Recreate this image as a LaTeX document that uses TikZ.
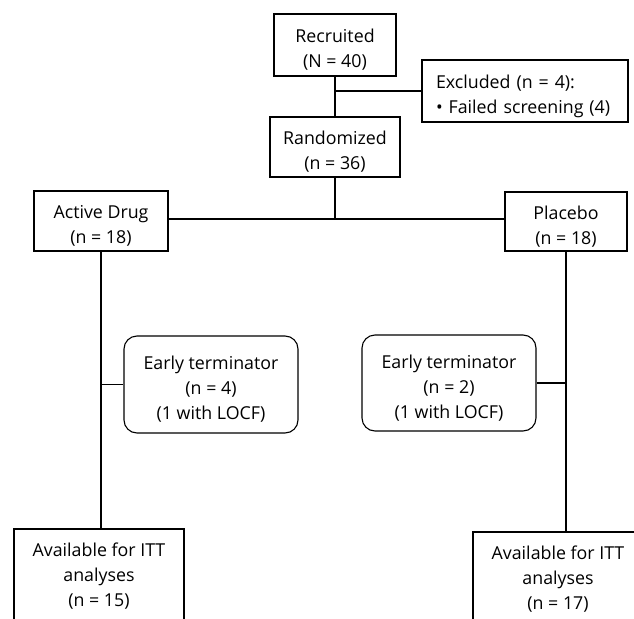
\documentclass[tikz,border=0pt]{standalone}
\usepackage{fontspec}
\setmainfont{Open Sans}
\newcommand\toppad{\rule{0pt}{23.5pt}}
\begin{document}
\begin{tikzpicture}[x=1pt,y=-1pt,
  every node/.style={font=\fontsize{17.8}{25}\selectfont, align=center, inner sep=0pt},
  box/.style={draw, line width=1.1pt},
  rbox/.style={draw, line width=1.1pt, rounded corners=13pt},
  conn/.style={line width=1.1pt}]
\useasboundingbox (0,0) rectangle (634,618);
\clip (0,0) rectangle (634,618);
\node[box, minimum width=122pt, minimum height=62pt] (rec) at (335,45) {\toppad Recruited\\(N = 40)};
\node[box, minimum width=206pt, minimum height=62pt, text width=178pt, inner xsep=14pt, align=left] (exc) at (525,91) {\toppad Excluded (n = 4):\\• Failed screening (4)};
\node[box, minimum width=130pt, minimum height=60pt] (rand) at (335,147) {\toppad Randomized\\(n = 36)};
\node[box, minimum width=134pt, minimum height=60pt] (act) at (101,221) {\toppad Active Drug\\(n = 18)};
\node[box, minimum width=122pt, minimum height=59pt] (plc) at (566,221.5) {\toppad Placebo\\(n = 18)};
\node[rbox, minimum width=174pt, minimum height=97pt] (et1) at (211,384.5) {\toppad Early terminator\\(n = 4)\\(1 with LOCF)};
\node[rbox, minimum width=174pt, minimum height=96pt] (et2) at (449,383) {\toppad Early terminator\\(n = 2)\\(1 with LOCF)};
\node[box, minimum width=170pt, minimum height=95pt] (av1) at (99,576.5) {Available for ITT\\analyses\\(n = 15)};
\node[box, minimum width=170pt, minimum height=95pt] (av2) at (558,579.5) {Available for ITT\\analyses\\(n = 17)};
\coordinate (j1) at (335,91);
\coordinate (j2) at (335,219);
\draw[conn] (rec.south) -- (rand.north);
\draw[conn] (j1) -- (exc.west);
\draw[conn] (rand.south) -- (j2);
\draw[conn] (act.east |- j2) -- (plc.west |- j2);
\draw[conn] (act.south) -- (act.south |- av1.north);
\draw[conn] (act.south |- et1.west) -- (et1.west);
\draw[conn] (plc.south) -- (plc.south |- av2.north);
\draw[conn] (et2.east) -- (plc.south |- et2.east);
\end{tikzpicture}
\end{document}
